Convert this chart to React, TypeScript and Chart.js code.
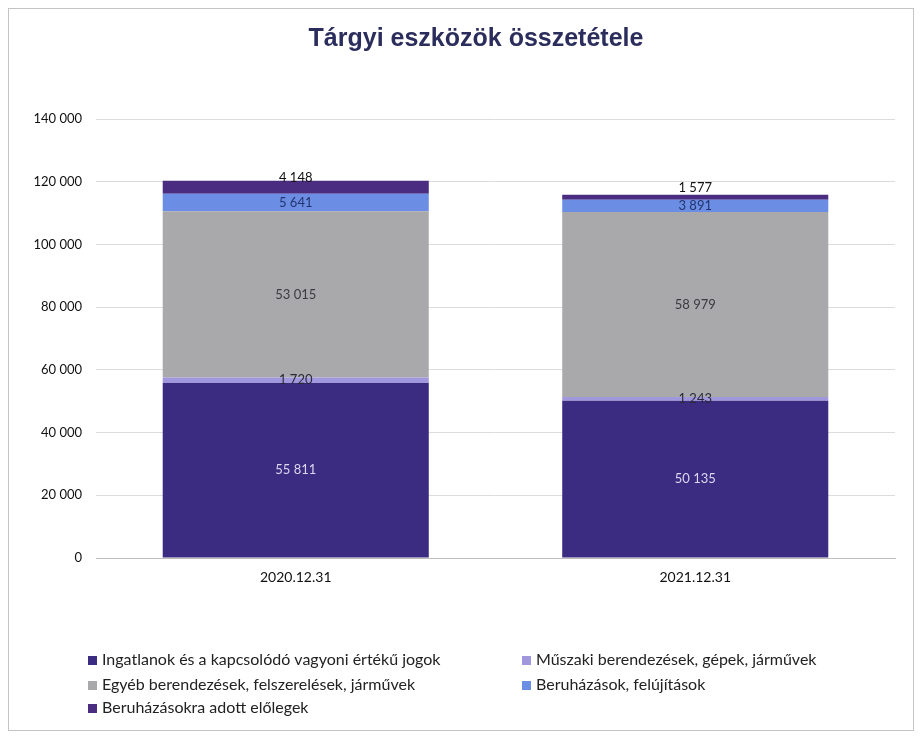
import React, { useEffect, useRef } from "react";
import { Chart, registerables } from "chart.js";

Chart.register(...registerables);

const categories = ["2020.12.31", "2021.12.31"];
const seriesNames = [
  "Ingatlanok és a kapcsolódó vagyoni értékű jogok",
  "Műszaki berendezések, gépek, járművek",
  "Egyéb berendezések, felszerelések, járművek",
  "Beruházások, felújítások",
  "Beruházásokra adott előlegek",
];
const ingatlanok = [55811, 50135];
const muszaki = [1720, 1243];
const egyeb = [53015, 58979];
const beruhazasok = [5641, 3891];
const elolegek = [4148, 1577];
const yTicks = [0, 20000, 40000, 60000, 80000, 100000, 120000, 140000];
const chartTitle = "Tárgyi eszközök összetétele";

const colors = ["#3b2c82", "#a197dd", "#a9a9ab", "#6b8ee4", "#4a2c80"];
const labelColors = ["#dcd8f0", "#2a2a3a", "#3a3a40", "#24346e", "#111111"];
const labelShift = [0, 0, 0, 0, -9];

const fmt = (v: number) =>
  String(Math.round(v)).replace(/\B(?=(\d{3})+(?!\d))/g, " ");

const titlePlugin = {
  id: "fixedTitle",
  afterDraw(chart: any) {
    const ctx = chart.ctx;
    ctx.save();
    ctx.font = "bold 25px 'Liberation Sans'";
    ctx.fillStyle = "#2b2d5c";
    ctx.textAlign = "center";
    ctx.textBaseline = "middle";
    ctx.fillText(chartTitle, 467, 30);
    ctx.restore();
  },
};

const dataLabelPlugin = {
  id: "segLabels",
  afterDatasetsDraw(chart: any) {
    const ctx = chart.ctx;
    ctx.save();
    ctx.font = "13px Lato";
    ctx.textAlign = "center";
    ctx.textBaseline = "middle";
    chart.data.datasets.forEach((ds: any, di: number) => {
      const meta = chart.getDatasetMeta(di);
      meta.data.forEach((el: any, i: number) => {
        const p = el.getProps(["x", "y", "base"], true);
        const cy = (p.y + p.base) / 2 + labelShift[di];
        ctx.fillStyle = labelColors[di];
        ctx.fillText(fmt(ds.data[i]), p.x, cy);
      });
    });
    ctx.restore();
  },
};

const legendPlugin = {
  id: "gridLegend",
  afterDraw(chart: any) {
    const ctx = chart.ctx;
    ctx.save();
    ctx.font = "16px Lato";
    ctx.textBaseline = "middle";
    ctx.textAlign = "left";
    const cols = [79, 513];
    const rows = [651, 676, 699];
    chart.data.datasets.forEach((ds: any, i: number) => {
      const x = cols[i % 2];
      const y = rows[Math.floor(i / 2)];
      ctx.fillStyle = ds.backgroundColor;
      ctx.fillRect(x, y - 4, 9, 9);
      ctx.fillStyle = "#222222";
      ctx.fillText(ds.label, x + 14, y);
    });
    ctx.restore();
  },
};

export default function App() {
  const ref = useRef<HTMLCanvasElement>(null);
  useEffect(() => {
    if (!ref.current) return;
    const series = [ingatlanok, muszaki, egyeb, beruhazasok, elolegek];
    const chart = new Chart(ref.current, {
      type: "bar",
      data: {
        labels: categories,
        datasets: series.map((d, i) => ({
          label: seriesNames[i],
          data: d,
          backgroundColor: colors[i],
          borderWidth: 0,
          barPercentage: 0.666,
          categoryPercentage: 1,
        })),
      },
      options: {
        animation: false,
        responsive: false,
        layout: { padding: { left: 8, right: 18, top: 110, bottom: 144 } },
        plugins: {
          legend: { display: false },
          tooltip: { enabled: false },
          title: { display: false },
        },
        scales: {
          x: {
            stacked: true,
            grid: { display: false, drawTicks: false },
            border: { display: true, color: "#bdbdbd" },
            ticks: {
              color: "#111111",
              font: { family: "Lato", size: 14 },
              padding: 11,
            },
            afterFit: (s: any) => {
              s.height = 28;
            },
          },
          y: {
            stacked: true,
            min: 0,
            max: 140000,
            afterBuildTicks: (s: any) => {
              s.ticks = yTicks.map((v) => ({ value: v }));
            },
            grid: { color: "#dcdcdc", drawTicks: false },
            border: { display: false },
            ticks: {
              color: "#111111",
              font: { family: "Lato", size: 13 },
              padding: 14,
              callback: (v: any) => fmt(Number(v)),
            },
            afterFit: (s: any) => {
              s.width = 79;
            },
          },
        },
      },
      plugins: [titlePlugin, dataLabelPlugin, legendPlugin],
    });
    return () => chart.destroy();
  }, []);
  return (
    <div
      style={{
        width: 906,
        height: 723,
        border: "1px solid #c4c4c4",
        boxSizing: "border-box",
        background: "#ffffff",
      }}
    >
      <canvas ref={ref} width={904} height={721} style={{ display: "block" }} />
    </div>
  );
}
